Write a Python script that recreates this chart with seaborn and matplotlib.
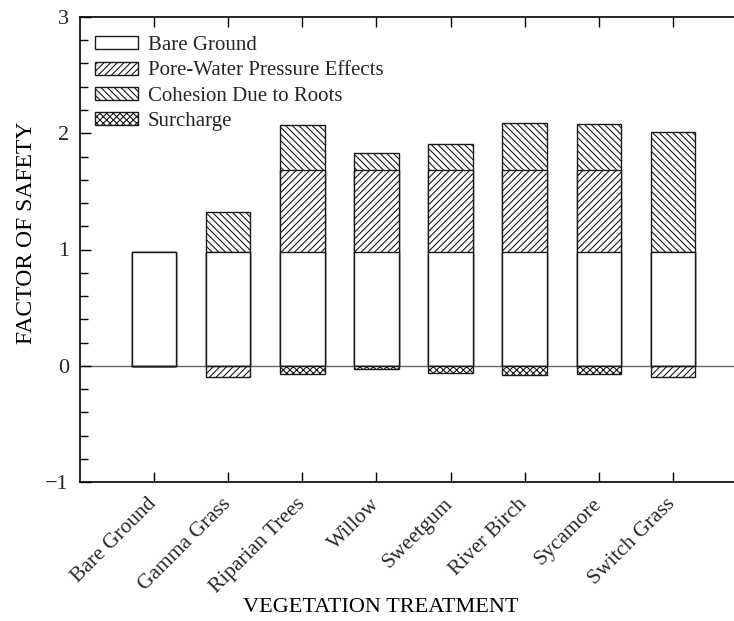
import matplotlib
matplotlib.use("Agg")
import matplotlib.pyplot as plt
from matplotlib.patches import Patch
from matplotlib.ticker import MultipleLocator
import numpy as np
import pandas as pd
import seaborn as sns

categories = ["Bare Ground", "Gamma Grass", "Riparian Trees", "Willow",
              "Sweetgum", "River Birch", "Sycamore", "Switch Grass"]
bare_ground = [0.98, 0.98, 0.98, 0.98, 0.98, 0.98, 0.98, 0.98]
pore_water = [0.0, 0.0, 0.70, 0.70, 0.70, 0.70, 0.70, 0.0]
cohesion = [0.0, 0.34, 0.39, 0.15, 0.23, 0.41, 0.40, 1.03]
pore_water_neg = [0.0, -0.10, 0.0, 0.0, 0.0, 0.0, 0.0, -0.10]
surcharge = [0.0, 0.0, -0.07, -0.03, -0.06, -0.08, -0.07, 0.0]
legend_labels = ["Bare Ground", "Pore-Water Pressure Effects",
                 "Cohesion Due to Roots", "Surcharge"]

sns.set_theme(style="white")
plt.rcParams["font.family"] = ["Liberation Serif", "DejaVu Serif"]
plt.rcParams["hatch.linewidth"] = 0.8

df = pd.DataFrame({
    "cat": categories,
    "bare": bare_ground,
    "pore": pore_water,
    "coh": cohesion,
    "pneg": pore_water_neg,
    "sur": surcharge,
})
df["top_pore"] = df["bare"] + df["pore"]
df["top_coh"] = df["top_pore"] + df["coh"]

H_PORE = "/////"
H_COH = "\\\\\\\\\\"
H_SUR = "xxxxx"

fig = plt.figure(figsize=(7.34, 6.21), dpi=100)
ax = fig.add_axes([80 / 734, 1 - 482 / 621, 667 / 734, 465 / 621])

EC = "#1a1a1a"
common = dict(x="cat", order=categories, width=0.6, color="white",
              edgecolor=EC, linewidth=1.0, saturation=1, ax=ax, errorbar=None)

sns.barplot(data=df, y="top_coh", hatch=H_COH, **common)
sns.barplot(data=df, y="top_pore", hatch=H_PORE, **common)
sns.barplot(data=df, y="bare", **common)
sns.barplot(data=df, y="pneg", hatch=H_PORE, **common)
sns.barplot(data=df, y="sur", hatch=H_SUR, **common)

ax.axhline(0, color="#666666", lw=1.0, zorder=0.5)

ax.set_xlim(-1, 8)
ax.set_ylim(-1, 3)
ax.yaxis.set_minor_locator(MultipleLocator(0.2))
ax.set_yticks([-1, 0, 1, 2, 3])
ax.set_yticklabels(["\u22121", "0", "1", "2", "3"], fontsize=16)

ax.set_xticks(range(len(categories)))
ax.set_xticklabels(categories, rotation=45, ha="right", va="center",
                   rotation_mode="anchor", fontsize=15.5)

ax.tick_params(axis="y", which="major", direction="in", length=8, width=1,
               pad=8, left=True, right=False, color="black")
ax.tick_params(axis="y", which="minor", direction="in", length=6, width=1,
               left=True, right=False, color="black")
ax.tick_params(axis="x", which="major", direction="in", length=7, width=1,
               pad=14, bottom=True, top=True, color="black")

for s in ["left", "top", "bottom", "right"]:
    ax.spines[s].set_color("black")
    ax.spines[s].set_linewidth(1.2)

ax.set_ylabel("FACTOR OF SAFETY", fontsize=17, color="black")
ax.yaxis.set_label_coords(-0.08, 0.535)
ax.yaxis.label.set_va("center")
ax.set_xlabel("VEGETATION TREATMENT", fontsize=16, color="black")
ax.xaxis.set_label_coords((381 - 80) / 667, (482 - 608) / 465)
ax.xaxis.label.set_va("center")

handles = [
    Patch(facecolor="white", edgecolor=EC, linewidth=1.0),
    Patch(facecolor="white", edgecolor=EC, linewidth=1.0, hatch=H_PORE),
    Patch(facecolor="white", edgecolor=EC, linewidth=1.0, hatch=H_COH),
    Patch(facecolor="white", edgecolor=EC, linewidth=1.0, hatch=H_SUR),
]
ax.legend(handles, legend_labels, loc="upper left",
          bbox_to_anchor=(-0.006, 0.999), frameon=False, fontsize=15,
          handlelength=2.1, handleheight=0.6, labelspacing=0.3,
          handletextpad=0.45, borderaxespad=0.5)

fig.savefig("out.png", dpi=100)
